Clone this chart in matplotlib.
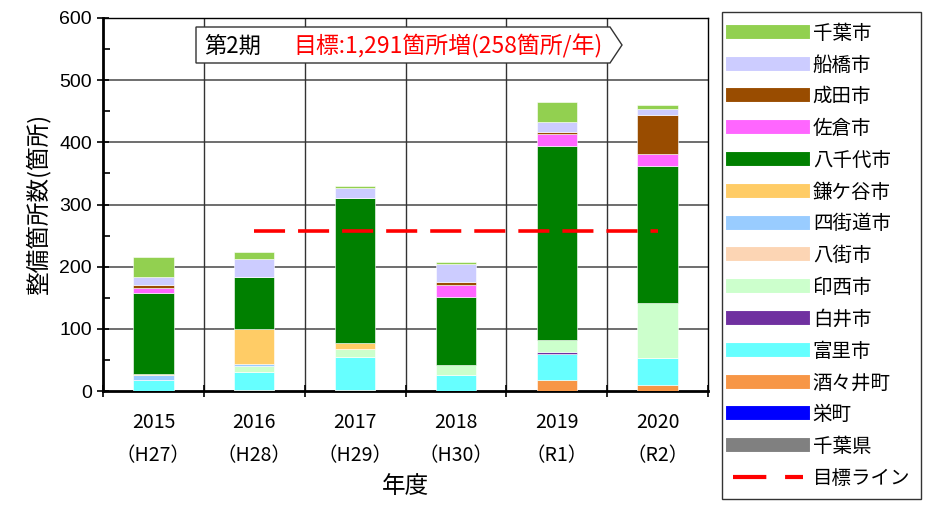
import matplotlib
matplotlib.use("Agg")
import matplotlib.pyplot as plt
from matplotlib.lines import Line2D
from matplotlib.patches import Polygon
import numpy as np

plt.rcParams['font.family'] = ['Noto Sans CJK JP', 'DejaVu Sans']

# data
years = ['2015\n（H27）', '2016\n（H28）', '2017\n（H29）', '2018\n（H30）', '2019\n（R1）', '2020\n（R2）']
# series listed from bottom of the stack to top
names = ['千葉県', '栄町', '酒々井町', '富里市', '白井市', '印西市', '八街市',
         '四街道市', '鎌ケ谷市', '八千代市', '佐倉市', '成田市', '船橋市', '千葉市']
colors = ['#808080', '#0000FF', '#F79646', '#66FFFF', '#7030A0', '#CCFFCC', '#FCD5B4',
          '#99CCFF', '#FFCC66', '#008000', '#FF66FF', '#994C00', '#CCCCFF', '#92D050']
chiba_pref = [0, 0, 0, 0, 0, 0]
sakae = [0, 0, 0, 0, 0, 0]
shisui = [0, 1, 2, 0, 17, 9]
tomisato = [18, 30, 52, 25, 42, 44]
shiroi = [0, 0, 0, 0, 3, 0]
inzai = [0, 10, 13, 17, 20, 89]
yachimata = [0, 0, 0, 0, 0, 0]
yotsukaido = [7, 2, 0, 0, 0, 0]
kamagaya = [2, 57, 10, 0, 0, 0]
yachiyo = [130, 84, 233, 110, 312, 220]
sakura = [9, 0, 0, 19, 20, 20]
narita = [4, 0, 0, 5, 2, 62]
funabashi = [14, 28, 17, 29, 16, 9]
chiba_city = [32, 11, 2, 2, 33, 7]
series = [chiba_pref, sakae, shisui, tomisato, shiroi, inzai, yachimata,
          yotsukaido, kamagaya, yachiyo, sakura, narita, funabashi, chiba_city]
target = 258
target_x = [1, 5]

fig = plt.figure(figsize=(9.25, 5.07), dpi=100)
ax = fig.add_axes([103/925, 1-391/507, 605/925, 373/507])

x = np.arange(len(years))
bottom = np.zeros(len(years))
for vals, c in zip(series, colors):
    ax.bar(x, vals, 0.4, bottom=bottom, color=c, edgecolor='white', linewidth=0.4, zorder=3)
    bottom += np.array(vals)

ax.plot(target_x, [target, target], color='#FF0000', lw=2.6, dashes=(8.6, 3.6), zorder=4)

ax.set_xlim(-0.5, 5.5)
ax.set_ylim(0, 600)
ax.set_yticks(range(0, 601, 100))
ax.set_yticks(range(50, 600, 100), minor=True)
ax.set_yticklabels([str(v) for v in range(0, 601, 100)], family='Liberation Sans', fontsize=14)
ax.tick_params(axis='y', which='major', direction='inout', length=9, width=1.2)
ax.tick_params(axis='y', which='minor', direction='in', length=5, width=1.2)

ax.set_xticks(np.arange(-0.5, 6, 1))
ax.set_xticklabels([])
ax.set_xticks(x, minor=True)
ax.set_xticklabels(years, minor=True, fontsize=14, linespacing=1.8)
ax.tick_params(axis='x', which='major', direction='inout', length=9, width=1.2)
ax.tick_params(axis='x', which='minor', length=0, pad=15)

for yv in range(100, 600, 100):
    ax.axhline(yv, color='#555555', lw=1.2, zorder=1)
for xv in np.arange(0.5, 5.5, 1):
    ax.axvline(xv, color='#333333', lw=1.0, zorder=1)
for s in ax.spines.values():
    s.set_linewidth(1.0)
ax.spines['left'].set_linewidth(2)
ax.spines['bottom'].set_linewidth(2)

ax.set_ylabel('整備箇所数(箇所)', fontsize=17, labelpad=6)
ax.set_xlabel('年度', fontsize=17, labelpad=6)

# annotation box (arrow shaped)
def ap(px, py):
    return ((px - 103) / 605, (391 - py) / 373)
pts = [ap(196, 27), ap(610, 27), ap(622, 45), ap(610, 63), ap(196, 63)]
ax.add_patch(Polygon(pts, closed=True, transform=ax.transAxes, facecolor='white',
                     edgecolor='#333333', lw=1.0, zorder=6))
ax.text(*ap(204, 46), '第2期', transform=ax.transAxes, fontsize=16, va='center', zorder=7)
ax.text(*ap(293, 46), '目標:1,291箇所増(258箇所/年)', transform=ax.transAxes,
        fontsize=16.5, va='center', color='#FF0000', zorder=7)

# legend
handles = []
labels = []
for n, c in zip(names[::-1], colors[::-1]):
    handles.append(Line2D([], [], color=c, lw=10))
    labels.append(n)
handles.append(Line2D([], [], color='#FF0000', lw=3, dashes=(8, 4.5)))
labels.append('目標ライン')
leg = fig.legend(handles, labels, loc='upper left', bbox_to_anchor=(722/925, 1-12/507),
                 fontsize=14, frameon=True, fancybox=False, edgecolor='black',
                 handlelength=3.64, handletextpad=0.48, labelspacing=0.555,
                 borderpad=0.55, borderaxespad=0)
leg.get_frame().set_linewidth(1.0)

fig.savefig('out.png', dpi=100)
